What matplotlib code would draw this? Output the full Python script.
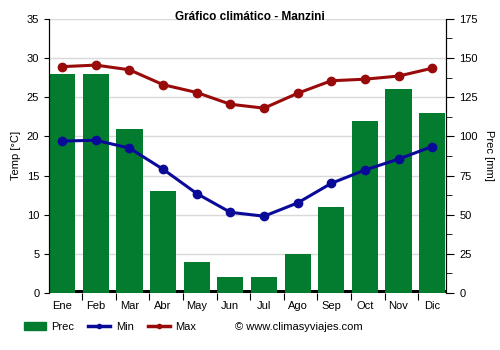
import matplotlib
matplotlib.use("Agg")
import matplotlib.pyplot as plt
import numpy as np
from matplotlib.lines import Line2D
from matplotlib.patches import Patch

months = ['Ene', 'Feb', 'Mar', 'Abr', 'May', 'Jun',
          'Jul', 'Ago', 'Sep', 'Oct', 'Nov', 'Dic']
prec = [140, 140, 105, 65, 20, 10, 10, 25, 55, 110, 130, 115]
tmin = [19.4, 19.5, 18.5, 15.8, 12.7, 10.3, 9.8, 11.5, 14.0, 15.7, 17.1, 18.7]
tmax = [28.9, 29.1, 28.5, 26.6, 25.6, 24.1, 23.6, 25.5, 27.1, 27.3, 27.7, 28.7]

green = '#037c30'
red = '#990a0a'
blue = '#0a0a99'

plt.rcParams['font.family'] = ['Liberation Sans', 'DejaVu Sans']
plt.rcParams['font.size'] = 8

fig = plt.figure(figsize=(5, 3.5), dpi=100)
ax = fig.add_axes([0.098, 0.163, 0.794, 0.783])
ax2 = ax.twinx()
ax.set_zorder(ax2.get_zorder() + 1)
ax.patch.set_visible(False)

x = np.arange(len(months))

# precipitation bars on the right axis
ax2.bar(x, prec, width=0.78, color=green, zorder=2)
ax2.axhline(0, color='black', lw=5, zorder=1)
ax2.set_ylim(0, 175)
ax2.set_yticks(np.arange(0, 176, 25))
ax2.set_yticks(np.arange(0, 176, 12.5), minor=True)
ax2.grid(True, color='#d9d9d9', lw=1, zorder=0)
ax2.set_axisbelow(True)
ax2.set_ylabel('Prec [mm]', rotation=-90, labelpad=12)

# temperature lines on the left axis
ax.plot(x, tmin, color=blue, lw=2.2, marker='o', ms=6)
ax.plot(x, tmax, color=red, lw=2.2, marker='o', ms=6)
ax.set_ylim(0, 35)
ax.set_yticks(np.arange(0, 36, 5))
ax.set_ylabel('Temp [°C]')
ax.set_xlim(-0.39, 11.41)

ax.set_xticks(x[:-1] + 0.59)
ax.set_xticklabels([])
ax.set_xticks(x, minor=True)
ax.set_xticklabels(months, minor=True)
ax.tick_params(axis='x', which='minor', length=0, pad=6)
ax.tick_params(axis='x', which='major', length=5, direction='out')

for a in (ax, ax2):
    a.spines['top'].set_visible(False)
    a.spines['left'].set_color('black')
    a.spines['right'].set_color('black')
ax2.spines['bottom'].set_visible(False)
ax.spines['bottom'].set_visible(False)
ax2.tick_params(axis='y', which='major', length=6)
ax2.tick_params(axis='y', which='minor', length=4)

fig.text(0.5, 0.951, 'Gráfico climático - Manzini', ha='center', va='center',
         fontsize=8.5, fontweight='bold')

handles = [Patch(color=green),
           Line2D([], [], color=blue, lw=2.5, marker='o', ms=3),
           Line2D([], [], color=red, lw=2.5, marker='o', ms=3)]
fig.legend(handles, ['Prec', 'Min', 'Max'], loc='center left',
           bbox_to_anchor=(0.027, 0.065), ncol=3, frameon=False,
           handlelength=2.0, columnspacing=1.25, handletextpad=0.5)
fig.text(0.47, 0.065, '© www.climasyviajes.com', va='center', fontsize=8)

fig.savefig('out.png', dpi=100)
